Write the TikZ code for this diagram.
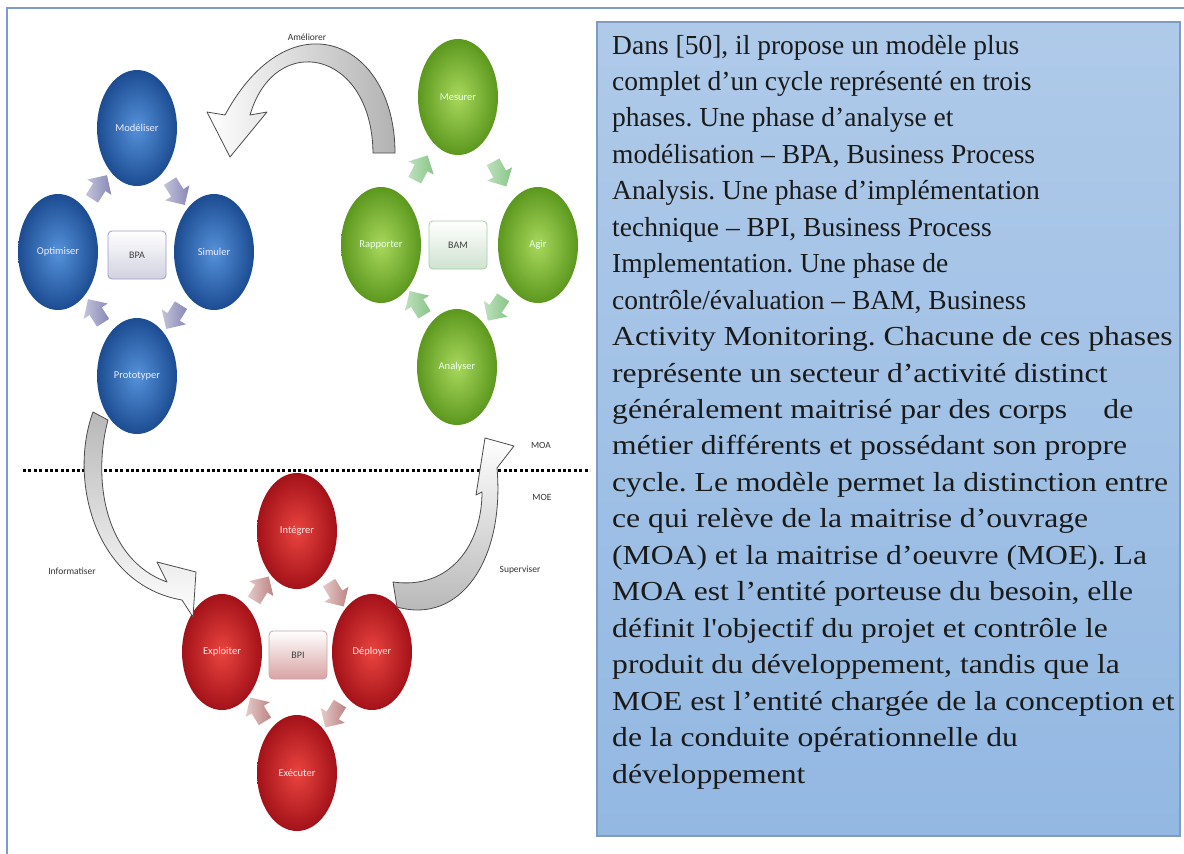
\documentclass[tikz,border=0pt]{standalone}
\usepackage{fontspec}
\setmainfont{Liberation Serif}
\newfontfamily\carl{Carlito}
\usetikzlibrary{shapes.geometric,shapes.arrows,calc}
\definecolor{frameblue}{HTML}{7C9CC9}
\definecolor{boxtop}{HTML}{AFCAE9}
\definecolor{boxbot}{HTML}{93B8E2}
\definecolor{boxline}{HTML}{7F9CBF}
\definecolor{bIn}{HTML}{5592DA}
\definecolor{bOut}{HTML}{1C4C92}
\definecolor{gIn}{HTML}{A8D85C}
\definecolor{gOut}{HTML}{5C981E}
\definecolor{rIn}{HTML}{EA443F}
\definecolor{rOut}{HTML}{A31219}
\definecolor{txt}{HTML}{1A1A1A}
\frenchspacing
\newcommand{\wideline}[1]{\scalebox{1.15}[1]{#1}}
\begin{document}
\begin{tikzpicture}[x=1pt,y=-1pt,
  circ/.style={ellipse, minimum width=80pt, minimum height=116pt, inner sep=0pt,
    font=\carl\fontsize{10.5}{12}\selectfont},
  bluec/.style={circ, inner color=bIn, outer color=bOut, text=white!92!blue},
  greenc/.style={circ, inner color=gIn, outer color=gOut, text=white!92!green},
  redc/.style={circ, inner color=rIn, outer color=rOut, text=white!90!red},
  phasebox/.style={rectangle, rounded corners=4pt, minimum width=58pt, minimum height=48pt,
    font=\carl\fontsize{10}{12}\selectfont, text=black!75, line width=0.8pt},
  barrow/.style={single arrow, draw=none, minimum height=28pt, inner xsep=0pt, inner ysep=7pt,
    single arrow head extend=7pt, sloped, allow upside down, pos=0.5},
  barrowb/.style={barrow, left color=blue!10!white!85!black, right color=blue!25!gray!75},
  barrowg/.style={barrow, left color=green!15!white!88!black, right color=green!35!gray!70},
  barrowr/.style={barrow, left color=red!12!white!90!black, right color=red!30!gray!75},
  bigarrow/.style={draw=black!70, line width=0.8pt, line join=round},
  lbl/.style={font=\carl\fontsize{9.5}{11}\selectfont, text=black!80},
  tline/.style={anchor=base west, inner sep=0pt, text=txt, font=\fontsize{27.5}{33}\selectfont}
]
\useasboundingbox (0,0) rectangle (1184,854);
\fill[white] (0,0) rectangle (1184,854);
% outer frame
\coordinate (fTL) at (7,8);
\coordinate (fTR) at (1184,8);
\coordinate (fBL) at (7,854);
\draw[frameblue, line width=2pt] (fBL) -- (fTL) -- (fTR);
% text box
\coordinate (tbA) at (597,22);
\coordinate (tbB) at (1180,836);
\shade[top color=boxtop, bottom color=boxbot, draw=boxline, line width=1.2pt] (tbA) rectangle (tbB);
% dotted separator
\coordinate (dL) at (23,470);
\coordinate (dR) at (590,470);
\draw[line width=3pt, dash pattern=on 3pt off 2.4pt] (dL) -- (dR);

% BPA cluster
\node[bluec] (mod) at (137,128) {Modéliser};
\node[bluec] (opt) at (58,252) {Optimiser};
\node[bluec] (sim) at (214,252) {Simuler};
\node[bluec] (pro) at (137,376) {Prototyper};
\node[phasebox, top color=white, bottom color=blue!20!gray!30, draw=blue!30!gray!60] (bpa) at (137,255) {BPA};
\path (opt) -- node[barrowb] {} (mod);
\path (mod) -- node[barrowb] {} (sim);
\path (sim) -- node[barrowb] {} (pro);
\path (pro) -- node[barrowb] {} (opt);

% BAM cluster
\node[greenc] (mes) at (458,97) {Mesurer};
\node[greenc] (rap) at (381,245) {Rapporter};
\node[greenc] (agi) at (538,245) {Agir};
\node[greenc] (ana) at (457,367) {Analyser};
\node[phasebox, top color=white, bottom color=green!25!gray!30, draw=green!30!gray!55] (bam) at (458,245) {BAM};
\path (rap) -- node[barrowg] {} (mes);
\path (mes) -- node[barrowg] {} (agi);
\path (agi) -- node[barrowg] {} (ana);
\path (ana) -- node[barrowg] {} (rap);

% BPI cluster
\node[redc] (int) at (297,531) {Intégrer};
\node[redc] (exl) at (222,652) {Exploiter};
\node[redc] (dep) at (372,652) {Déployer};
\node[redc] (exe) at (297,773) {Exécuter};
\node[phasebox, top color=white, bottom color=red!25!white!85!black, draw=red!25!gray!55] (bpi) at (298,655) {BPI};
\path (exl) -- node[barrowr] {} (int);
\path (int) -- node[barrowr] {} (dep);
\path (dep) -- node[barrowr] {} (exe);
\path (exe) -- node[barrowr] {} (exl);

% big curved arrows
% Ameliorer
\draw[bigarrow, left color=white, right color=black!30]
  (373,153) -- (395,153)
  .. controls (395,40) and (290,-5) .. (225,115)
  -- (207,112) -- (230,157) -- (267,112) -- (250,115)
  .. controls (275,30) and (372,50) .. (373,153) -- cycle;
% Informatiser
\draw[bigarrow, top color=black!28, bottom color=white]
  (93,412) -- (108,420)
  .. controls (92,480) and (105,560) .. (167,582)
  -- (157,562) -- (196,572) -- (193,617) -- (182,600)
  .. controls (95,585) and (68,480) .. (93,412) -- cycle;
% Superviser
\draw[bigarrow, top color=white, bottom color=black!30]
  (393,582)
  .. controls (450,590) and (482,545) .. (482,492)
  -- (476,495) -- (485,438) -- (514,446) -- (497,468)
  .. controls (505,560) and (460,625) .. (397,607) -- cycle;

% labels
\node[lbl] (lAme) at (307,37) {Améliorer};
\node[lbl] (lInf) at (72,571) {Informatiser};
\node[lbl] (lSup) at (520,570) {Superviser};
\node[lbl] (lMOA) at (541,445) {MOA};
\node[lbl] (lMOE) at (542,497) {MOE};

% text lines
\node[tline] (t1) at (612,54) {Dans [50], il propose un modèle plus};
\node[tline] (t2) at (612,90.45) {complet d’un cycle représenté en trois};
\node[tline] (t3) at (612,126.9) {phases. Une phase d’analyse et};
\node[tline] (t4) at (612,163.35) {modélisation – BPA, Business Process};
\node[tline] (t5) at (612,199.8) {Analysis. Une phase d’implémentation};
\node[tline] (t6) at (612,236.25) {technique – BPI, Business Process};
\node[tline] (t7) at (612,272.7) {Implementation. Une phase de};
\node[tline] (t8) at (612,309.15) {contrôle/évaluation – BAM, Business};
\node[tline] (t9) at (612,345.6) {\wideline{Activity Monitoring. Chacune de ces phases}};
\node[tline] (t10) at (612,382.05) {\wideline{représente un secteur d’activité distinct}};
\node[tline] (t11) at (612,418.5) {\wideline{généralement maitrisé par des corps\hspace{0.9em} de}};
\node[tline] (t12) at (612,454.95) {\wideline{métier différents et possédant son propre}};
\node[tline] (t13) at (612,491.4) {\wideline{cycle. Le modèle permet la distinction entre}};
\node[tline] (t14) at (612,527.85) {\wideline{ce qui relève de la maitrise d’ouvrage}};
\node[tline] (t15) at (612,564.3) {\wideline{(MOA) et la maitrise d’oeuvre (MOE). La}};
\node[tline] (t16) at (612,600.75) {\wideline{MOA est l’entité porteuse du besoin, elle}};
\node[tline] (t17) at (612,637.2) {\wideline{définit l\textquotesingle objectif du projet et contrôle le}};
\node[tline] (t18) at (612,673.65) {\wideline{produit du développement, tandis que la}};
\node[tline] (t19) at (612,710.1) {\wideline{MOE est l’entité chargée de la conception et}};
\node[tline] (t20) at (612,746.55) {\wideline{de la conduite opérationnelle du}};
\node[tline] (t21) at (612,783) {\wideline{développement}};
\end{tikzpicture}
\end{document}
